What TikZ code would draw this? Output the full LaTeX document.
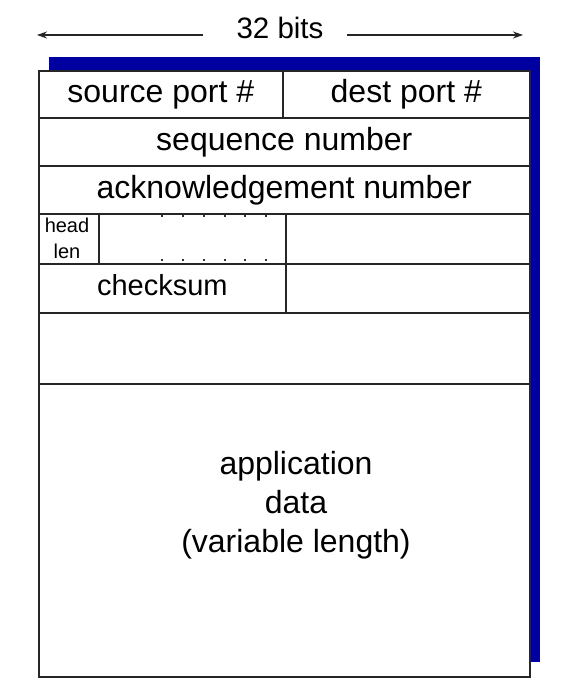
\documentclass[tikz,border=0pt]{standalone}
\usepackage{fontspec}
\setmainfont{Liberation Sans}
\usetikzlibrary{arrows.meta}
\definecolor{shadowblue}{RGB}{0,0,160}
\tikzset{
  cell/.style={draw=black!85, line width=1.6bp, fill=white, inner sep=0pt, anchor=north west, font=\fontsize{32bp}{36bp}\selectfont, text height=23bp, text depth=6bp},
  small/.style={font=\fontsize{20bp}{26bp}\selectfont, align=center, inner sep=0pt},
  big/.style={font=\fontsize{32bp}{39bp}\selectfont, align=center, inner sep=0pt},
  tick/.style={fill=black!80, inner sep=0pt, minimum width=2bp, minimum height=2.5bp},
  dim/.style={line width=1.3bp, draw=black!85, -{Stealth[length=10bp,width=7bp]}}
}
\begin{document}
\begin{tikzpicture}[x=1bp,y=-1bp]
\useasboundingbox (0,0) rectangle (564,698);
% shadow
\node[fill=shadowblue, inner sep=0pt, anchor=north west, minimum width=491bp, minimum height=605bp] (shadow) at (49,57) {};
% cells
\node[cell, minimum width=244bp, minimum height=47bp] (src) at (38,70) {source port \#};
\node[cell, minimum width=247bp, minimum height=47bp] (dst) at (282,70) {dest port \#};
\node[cell, minimum width=491bp, minimum height=48bp] (seq) at (38,117) {sequence number};
\node[cell, minimum width=491bp, minimum height=48bp] (ack) at (38,165) {acknowledgement number};
\node[cell, minimum width=60bp, minimum height=50bp] (hlen) at (38,213) {};
\node[cell, minimum width=187bp, minimum height=50bp] (flags) at (98,213) {};
\node[cell, minimum width=244bp, minimum height=50bp] (rwnd) at (285,213) {};
\node[cell, minimum width=247bp, minimum height=49bp, font=\fontsize{29bp}{34bp}\selectfont, text height=21bp] (cks) at (38,263) {checksum};
\node[cell, minimum width=244bp, minimum height=49bp] (urg) at (285,263) {};
\node[cell, minimum width=491bp, minimum height=71bp] (opts) at (38,312) {};
\node[cell, minimum width=491bp, minimum height=293bp] (data) at (38,383) {};
% texts
\node[small] (hl) at (67,238) {head\\len};
\node[big] (apptxt) at (296,505) {application\\data\\(variable length)};
% ticks
\foreach \i [count=\k] in {162,183,204,225,245,266}{
  \node[tick] (tt\k) at (\i,216) {};
  \node[tick] (tb\k) at (\i,260) {};
}
% 32 bits
\node[font=\fontsize{29.5bp}{34bp}\selectfont, inner sep=0pt] (bits) at (280,28) {32 bits};
\coordinate (al1) at (203,35);
\coordinate (al2) at (37,35);
\coordinate (ar1) at (347,35);
\coordinate (ar2) at (523,35);
\draw[dim] (al1) -- (al2);
\draw[dim] (ar1) -- (ar2);
\end{tikzpicture}
\end{document}
